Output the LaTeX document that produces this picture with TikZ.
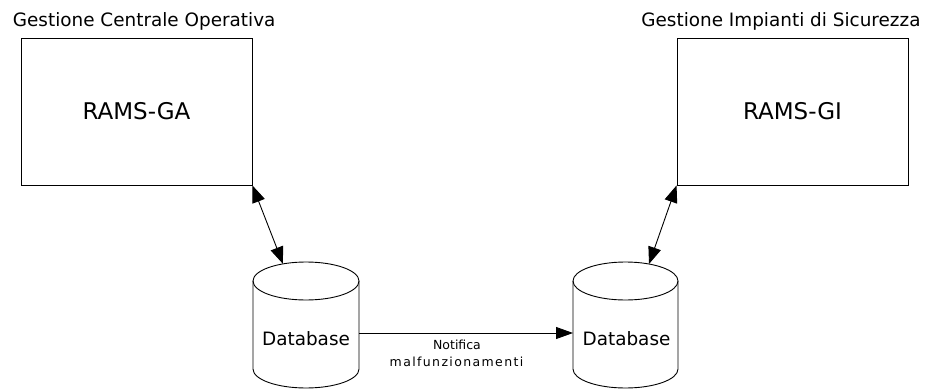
\documentclass[tikz,border=0pt]{standalone}
\usepackage{fontspec}
\setmainfont{DejaVu Sans}
\usetikzlibrary{arrows.meta}
\tikzset{
  box/.style={draw, line width=0.9pt, minimum width=231pt, minimum height=147pt, inner sep=0pt, font=\fontsize{23}{27}\selectfont},
  title/.style={inner sep=0pt, font=\fontsize{18.4}{22}\selectfont},
  dbtext/.style={inner sep=0pt, font=\fontsize{18.4}{22}\selectfont},
  cyl/.style={line width=0.9pt},
  link/.style={line width=0.9pt, {Triangle[length=17pt,width=13pt]}-{Triangle[length=17pt,width=13pt]}},
  flow/.style={line width=0.9pt, -{Triangle[length=17pt,width=12pt]}},
  small/.style={inner sep=0pt, font=\fontsize{12.5}{15}\selectfont}
}
\begin{document}
\begin{tikzpicture}[x=1pt,y=1pt]
\useasboundingbox (0,0) rectangle (939,389);
% boxes
\node[box] (ga) at (136.5,277.5) {RAMS-GA};
\node[box] (gi) at (792.5,277.5) {RAMS-GI};
\node[title, anchor=base west] (tga) at (12.7,362.3) {Gestione Centrale Operativa};
\node[title, anchor=base east] (tgi) at (920.7,362.3) {Gestione Impianti di Sicurezza};
% cylinder 1
\draw[cyl] (306,108) ellipse [x radius=53, y radius=19];
\draw[cyl] (253,108) -- (253,20) arc[start angle=180, end angle=360, x radius=53, y radius=19] -- (359,108);
\node[dbtext] (db1) at (306,50) {Database};
\coordinate (db1in) at (283,125.1);
\coordinate (db1east) at (359,56);
% cylinder 2
\draw[cyl] (625.5,108) ellipse [x radius=52.5, y radius=19];
\draw[cyl] (573,108) -- (573,20) arc[start angle=180, end angle=360, x radius=52.5, y radius=19] -- (678,108);
\node[dbtext] (db2) at (626.5,50) {Database};
\coordinate (db2in) at (649,125);
\coordinate (db2west) at (573,56);
% connectors
\draw[link] (ga.south east) -- (db1in);
\draw[link] (gi.south west) -- (db2in);
\draw[flow] (db1east) -- (db2west);
\node[small] (n1) at (457,44) {Notifica};
\node[small] (n2) at (456.5,27) {\addfontfeature{LetterSpace=11}malfunzionamenti};
\end{tikzpicture}
\end{document}
